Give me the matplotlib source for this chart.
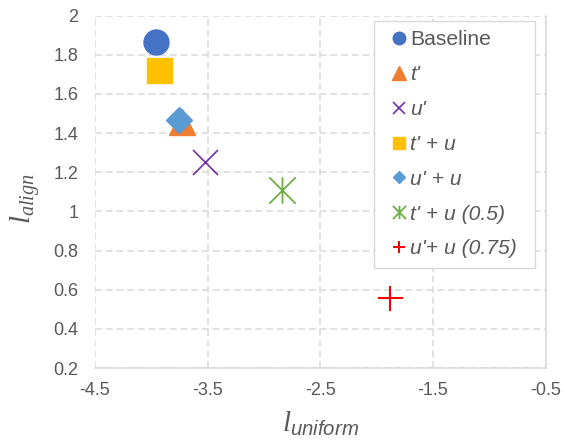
import matplotlib
matplotlib.use("Agg")
import matplotlib.pyplot as plt
from matplotlib.path import Path

plt.rcParams["font.family"] = ["Liberation Sans", "DejaVu Sans"]
plt.rcParams["mathtext.fontset"] = "custom"
plt.rcParams["mathtext.it"] = "Liberation Serif:italic"
plt.rcParams["mathtext.rm"] = "Liberation Serif"
plt.rcParams["mathtext.sf"] = "Liberation Sans:italic"

labels = ["Baseline", "t'", "u'", "t' + u", "u' + u", "t' + u (0.5)", "u'+ u (0.75)"]
l_uniform = [-3.96, -3.73, -3.52, -3.93, -3.75, -2.84, -1.88]
l_align = [1.864, 1.455, 1.255, 1.723, 1.468, 1.107, 0.56]

# x with a vertical bar through it
star = Path([(-1, -1), (1, 1), (-1, 1), (1, -1), (0, -1), (0, 1)],
            [Path.MOVETO, Path.LINETO, Path.MOVETO, Path.LINETO, Path.MOVETO, Path.LINETO])

styles = [
    dict(marker="o", ms=18, color="#4472C4"),
    dict(marker="^", ms=19, color="#ED7D31"),
    dict(marker="x", ms=18, color="#7030A0", mew=1.2),
    dict(marker="s", ms=18, color="#FFC000"),
    dict(marker="D", ms=13, color="#5B9BD5"),
    dict(marker=star, ms=19, color="#70AD47", mew=1.3, mfc="none"),
    dict(marker="+", ms=18, color="#FF0000", mew=1.5),
]

grid_c = "#d9d9d9"
text_c = "#595959"

fig = plt.figure(figsize=(5.65, 4.4), dpi=100)
ax = fig.add_axes([0.1681, 0.1636, 0.7977, 0.8007])

for x, y, lab, st in zip(l_uniform, l_align, labels, styles):
    ax.plot([x], [y], linestyle="none", label=lab, zorder=3, **st)

ax.set_xlim(-4.5, -0.5)
ax.set_ylim(0.2, 2.0)
ax.set_xticks([-4.5, -3.5, -2.5, -1.5, -0.5])
ax.set_xticklabels(["-4.5", "-3.5", "-2.5", "-1.5", "-0.5"])
ax.set_yticks([0.2, 0.4, 0.6, 0.8, 1.0, 1.2, 1.4, 1.6, 1.8, 2.0])
ax.set_yticklabels(["0.2", "0.4", "0.6", "0.8", "1", "1.2", "1.4", "1.6", "1.8", "2"])
ax.grid(True, color=grid_c, linewidth=1.1, linestyle=(0, (4.5, 2.5)), zorder=0)
ax.set_axisbelow(True)
ax.tick_params(length=0, labelsize=13, labelcolor=text_c)
ax.tick_params(axis="y", pad=12)
ax.tick_params(axis="x", pad=10)

for side in ["left", "top"]:
    ax.spines[side].set_visible(False)
for side in ["bottom", "right"]:
    ax.spines[side].set_color(grid_c)
    ax.spines[side].set_linewidth(1.1)

ax.set_xlabel(r"$l_{\mathsf{uniform}}$", fontsize=21, color=text_c)
ax.set_ylabel(r"$l_{align}$", fontsize=21, color=text_c)
ax.xaxis.set_label_coords(0.5, -0.119)
ax.yaxis.set_label_coords(-0.118, 0.48)

leg = ax.legend(loc="upper left", bbox_to_anchor=(0.619, 0.2895, 0.357, 0.6955),
                mode="expand", ncol=1, fontsize=15.2, markerscale=0.5,
                numpoints=1, handlelength=1.46, handletextpad=-0.2,
                labelspacing=0.75, borderpad=0.45, borderaxespad=0,
                fancybox=False, framealpha=1, edgecolor=grid_c,
                labelcolor=text_c)
leg.get_frame().set_linewidth(1.0)
for t in leg.get_texts()[1:]:
    t.set_style("italic")

fig.savefig("out.png", dpi=100)
